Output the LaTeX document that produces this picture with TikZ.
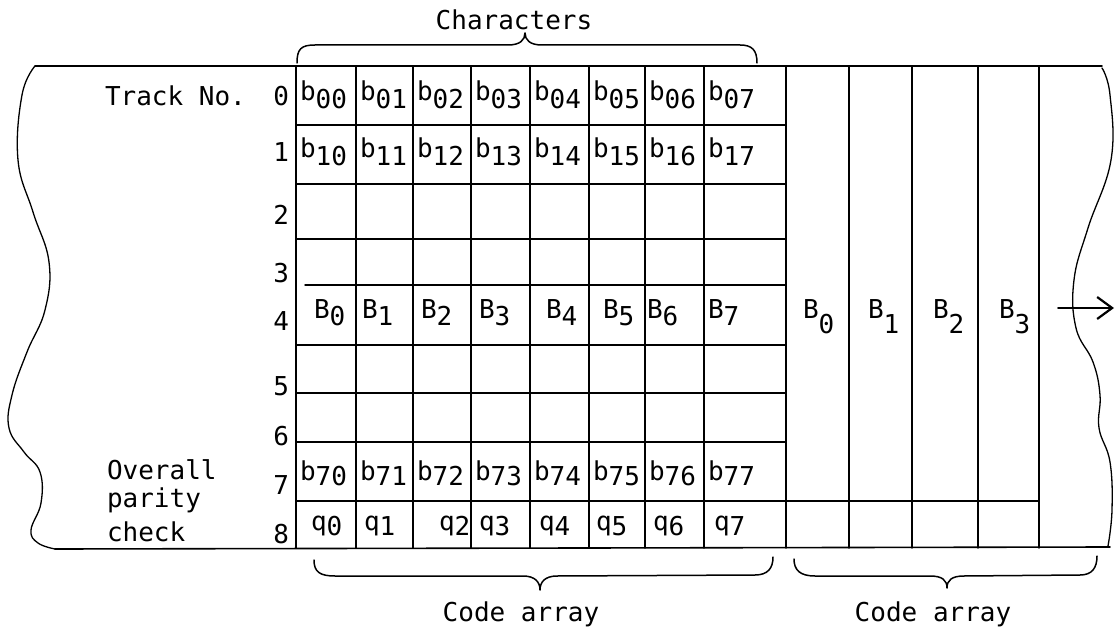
\documentclass[tikz,border=0pt]{standalone}
\usepackage{fontspec}
\setmainfont{DejaVu Sans Mono}
\usetikzlibrary{arrows.meta}
\newcommand{\bsub}[1]{b\raisebox{-0.3em}{#1}}
\newcommand{\bsubs}[1]{b\raisebox{-0.2em}{#1}}
\newcommand{\Bsub}[1]{B\raisebox{-0.3em}{#1}}
\newcommand{\Bdeep}[1]{B\raisebox{-0.58em}{#1}}
\newcommand{\qsub}[1]{q\raisebox{-0.2em}{#1}}
\begin{document}
\begin{tikzpicture}[x=1pt,y=-1pt,line cap=round,line join=round,
  every node/.style={inner sep=0pt,outer sep=0pt,font=\fontsize{26}{30}\selectfont},
  cell/.style={anchor=base west},
  rowno/.style={anchor=base east},
  side/.style={anchor=base west},
  frame/.style={line width=1.6pt},
  wave/.style={line width=1.3pt},
  gridline/.style={line width=1.4pt},
  brace/.style={line width=1.5pt}]
\useasboundingbox (0,0) rectangle (1119,631);

% tape outline
\draw[frame] (35,66) -- (1102,66);
\draw[frame] (55,549) -- (1110,547);
\draw[wave] plot[smooth,tension=0.7] coordinates {(35,66) (22,95) (18,160) (33,212) (49,262) (45,310) (27,352) (12,395) (9,428) (24,452) (40,472) (41,503) (31,530) (38,543) (55,549)};
\draw[wave] plot[smooth,tension=0.7] coordinates {(1102,68) (1110,95) (1111,160) (1088,228) (1074,280) (1076,328) (1093,362) (1100,395) (1099,428) (1110,462) (1112,510) (1108,546)};

% character grid and code array columns
\foreach \x in {296,356,413,471,530,589,645,704,786,849,912,978,1039}
  \draw[gridline] (\x,66) -- (\x,548);
\foreach \y in {125,184,239,345,393,442,501}
  \draw[gridline] (296,\y) -- (786,\y);
\draw[gridline] (305,285) -- (786,285);
\draw[gridline] (786,501) -- (1039,501);

% row numbers
\foreach \n/\y in {0/106,1/162,2/225,3/282,4/330,5/395,6/445,7/494,8/543}
  \node[rowno] (r\n) at (289,\y) {\n};

% side labels
\node[side] (track) at (105,106) {Track No.};
\node[side] (overall) at (107,479) {Overall};
\node[side] (parity) at (107,507) {parity};
\node[side] (check) at (107,541) {check};

% cells
\foreach \x [count=\i from 0] in {296,356,413,471,530,589,645,704} {
  \node[cell] (b0\i) at (\x+4,101) {\bsub{0\i}};
  \node[cell] (b1\i) at (\x+4,158) {\bsub{1\i}};
  \node[cell] (b7\i) at (\x+4,480) {\bsubs{7\i}};
}
\foreach \x [count=\i from 0] in {314,362,421,479,546,603,647,708}
  \node[cell] (B\i) at (\x,318) {\Bsub{\i}};
\foreach \x [count=\i from 0] in {311,364,439,479,539,596,653,714}
  \node[cell] (q\i) at (\x,530) {\qsub{\i}};
\foreach \x [count=\i from 0] in {803,868,933,999}
  \node[cell] (C\i) at (\x,318) {\Bdeep{\i}};

% arrow
\coordinate (arrS) at (1058,308);
\coordinate (arrE) at (1114,308);
\draw[line width=1.6pt,-{Straight Barb[length=15pt,width=22pt,line width=2.2pt]}] (arrS) -- (arrE);

% braces and titles
\node[anchor=base] (chars) at (514,30) {Characters};
\draw[brace] (297,63) .. controls (297,49) and (301,45) .. (315,45) -- (508,45) .. controls (520,45) and (525,40) .. (525,33) .. controls (525,40) and (530,45) .. (542,45) -- (740,45) .. controls (752,45) and (757,50) .. (757,63);

\draw[brace] (314,560) .. controls (314,572) and (320,576) .. (335,576) -- (523,576) .. controls (535,576) and (540,582) .. (540,590) .. controls (540,582) and (545,576) .. (557,576) -- (755,575) .. controls (768,575) and (773,568) .. (773,557);
\node[anchor=base] (code1) at (521,621) {Code array};

\draw[brace] (794,559) .. controls (794,570) and (800,576) .. (815,576) -- (930,576) .. controls (942,576) and (947,580) .. (947,588) .. controls (947,580) and (952,576) .. (964,576) -- (1080,575) .. controls (1092,575) and (1097,568) .. (1097,556);
\node[anchor=base] (code2) at (933,621) {Code array};
\end{tikzpicture}
\end{document}
